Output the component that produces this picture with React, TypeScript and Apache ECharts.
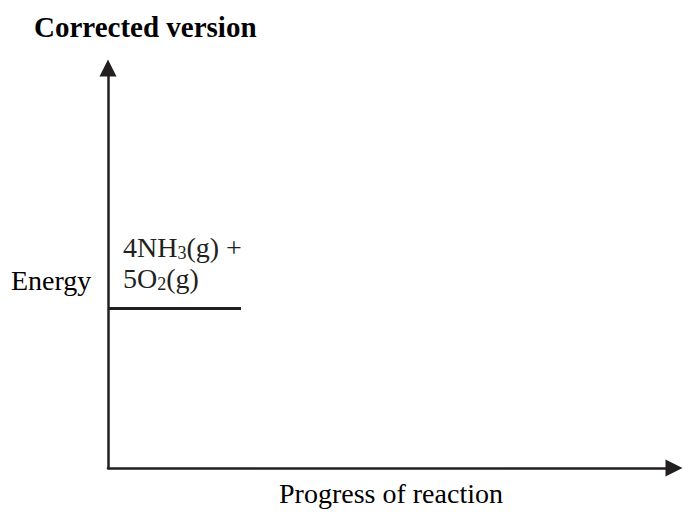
import React, { useEffect, useRef } from "react";
import * as echarts from "echarts";

const titleText = "Corrected version";
const xAxisName = "Progress of reaction";
const yAxisName = "Energy";
const progress = [0, 23.5];
const energy = [39.9, 39.9];
const reactantLine1 = ["4NH", "3", "(g) +"];
const reactantLine2 = ["5O", "2", "(g)"];

const INK = "#231f20";
const FONT = "'Liberation Serif', 'Times New Roman', serif";

export default function App() {
  const ref = useRef<HTMLDivElement>(null);
  useEffect(() => {
    if (!ref.current) return;
    const chart = echarts.init(ref.current, null, { renderer: "svg" });
    const rich = {
      n: { fontFamily: FONT, fontSize: 28, color: INK },
      s: { fontFamily: FONT, fontSize: 18, color: INK, padding: [12, 0, 0, 0] },
    };
    const axisLine = {
      show: true,
      symbol: ["none", "triangle"],
      symbolSize: [17, 17],
      lineStyle: { color: INK, width: 2.5 },
    };
    chart.setOption({
      animation: false,
      backgroundColor: "#ffffff",
      title: {
        text: titleText,
        left: 29,
        top: 7,
        textStyle: { fontFamily: FONT, fontSize: 29, fontWeight: "bold", color: "#000" },
      },
      grid: { left: 108, right: 9, top: 68, bottom: 38 },
      xAxis: {
        type: "value",
        min: 0,
        max: 100,
        name: xAxisName,
        nameLocation: "middle",
        nameGap: 11,
        nameTextStyle: { fontFamily: FONT, fontSize: 28, color: "#000", verticalAlign: "top" },
        axisLine,
        axisTick: { show: false },
        axisLabel: { show: false },
        splitLine: { show: false },
      },
      yAxis: {
        type: "value",
        min: 0,
        max: 100,
        axisLine,
        axisTick: { show: false },
        axisLabel: { show: false },
        splitLine: { show: false },
      },
      series: [
        {
          type: "line",
          data: progress.map((x, i) => [x, energy[i]]),
          symbol: "none",
          lineStyle: { color: INK, width: 3 },
        },
      ],
    });
    const p0 = chart.convertToPixel({ gridIndex: 0 }, [progress[0], energy[0]]) as number[];
    const mk = (parts: string[]) => `{n|${parts[0]}}{s|${parts[1]}}{n|${parts[2]}}`;
    chart.setOption({
      graphic: [
        {
          type: "text",
          left: 11,
          top: p0[1] - 42,
          style: { text: yAxisName, fontFamily: FONT, fontSize: 28, fill: "#000" },
        },
        {
          type: "text",
          x: p0[0] + 15,
          y: p0[1] - 61,
          style: { text: mk(reactantLine1), rich, verticalAlign: "middle", fill: INK },
        },
        {
          type: "text",
          x: p0[0] + 15,
          y: p0[1] - 30,
          style: { text: mk(reactantLine2), rich, verticalAlign: "middle", fill: INK },
        },
      ],
    });
    return () => chart.dispose();
  }, []);
  return (
    <div
      ref={ref}
      style={{ position: "fixed", left: 0, top: 0, width: 683, height: 512, background: "#fff" }}
    />
  );
}
